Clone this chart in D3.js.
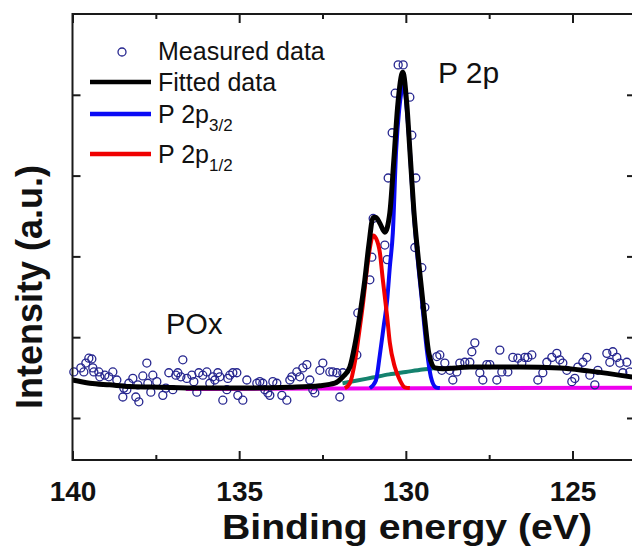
<!DOCTYPE html>
<html><head><meta charset="utf-8">
<script src="https://cdn.jsdelivr.net/npm/d3@7"></script>
<style>
html,body{margin:0;padding:0;background:#fff;}
svg{display:block;font-family:"Liberation Sans",Arial,sans-serif;}
</style></head>
<body>
<svg id="chart" width="632" height="547"></svg>
<script>
// ---- data (binding energy eV, intensity a.u.) ----
const xMajorTicks = [140, 135, 130, 125];
const xMinorTicks = [137.5, 132.5, 127.5];
const yTicks = [0.52, 1.52, 2.52, 3.52, 4.52];

const measured = [
 [139.96,1.09],[139.75,1.14],[139.66,1.09],[139.60,1.20],[139.51,1.26],[139.42,1.25],[139.39,1.14],
 [139.36,1.09],[139.21,1.09],[139.18,1.03],[139.03,1.05],[138.91,1.03],[138.79,1.09],[138.67,0.99],
 [138.49,0.78],[138.46,0.89],[138.37,0.87],[138.31,0.95],[138.19,1.01],[138.10,0.78],[138.04,0.93],
 [138.01,0.72],[137.89,1.04],[137.77,1.20],[137.74,0.95],[137.65,0.84],[137.59,1.05],[137.47,0.97],
 [137.29,0.80],[137.20,0.89],[137.11,1.08],[136.99,0.87],[136.90,1.05],[136.84,1.08],[136.75,1.03],
 [136.69,1.24],[136.57,1.01],[136.42,1.05],[136.36,0.97],[136.27,0.84],[136.21,1.08],[136.09,1.05],
 [135.97,1.09],[135.88,0.95],[135.79,1.03],[135.73,0.99],[135.64,1.08],[135.58,1.03],[135.49,0.74],
 [135.37,0.87],[135.34,1.01],[135.28,1.05],[135.19,1.08],[135.07,1.08],[135.04,0.80],[134.89,0.74],
 [134.77,0.99],[134.47,0.95],[134.38,0.97],[134.29,0.95],[134.23,0.87],[134.14,0.83],[134.08,0.80],
 [133.99,0.97],[133.87,0.95],[133.72,0.80],[133.57,0.74],[133.48,0.99],[133.42,1.03],[133.27,1.09],
 [133.18,1.03],[133.09,1.14],[132.97,1.18],[132.88,0.99],[132.79,0.87],[132.73,0.83],[132.58,1.11],
 [132.49,1.20],[132.28,1.09],[132.19,1.09],[132.07,1.08],[131.98,0.78],[131.89,1.08],[131.47,1.30],
 [131.44,1.82],[131.08,2.23],[131.02,2.51],[130.98,2.99],[130.63,2.66],[130.56,2.48],[130.53,3.49],
 [130.41,4.05],[130.32,4.54],[130.23,4.89],[130.08,4.89],[129.88,4.49],[129.82,4.02],[129.70,3.49],
 [129.73,2.63],[129.52,2.38],[129.43,1.89],[129.07,1.28],[128.98,1.30],[128.92,1.11],[128.83,1.20],
 [128.68,1.11],[128.59,0.99],[128.47,1.09],[128.38,1.20],[128.23,1.21],[128.08,1.21],[128.02,1.34],
 [127.93,1.45],[127.78,1.08],[127.69,0.99],[127.57,1.18],[127.48,1.18],[127.27,0.99],[127.18,1.36],
 [127.12,1.09],[126.94,1.09],[126.79,1.27],[126.64,1.26],[126.52,1.20],[126.43,1.27],[126.34,1.27],
 [126.22,1.30],[126.04,0.99],[125.89,1.08],[125.77,1.21],[125.62,1.27],[125.47,1.32],[125.38,1.24],
 [125.29,1.20],[125.17,1.11],[125.02,0.97],[124.93,1.01],[124.84,1.15],[124.69,1.21],[124.57,1.27],
 [124.48,1.05],[124.33,0.93],[124.24,1.11],[123.97,1.32],[123.88,1.21],[123.79,1.34],[123.67,1.27],
 [123.58,1.20],[123.49,1.08],[123.37,1.21],[123.28,1.09]
];

const fitted = [
 [140.0,0.99],[139.48,0.95],[138.88,0.93],[138.28,0.91],[137.38,0.90],[136.18,0.89],[134.68,0.89],
 [133.48,0.90],[132.58,0.92],[132.13,0.95],[131.89,1.03],[131.68,1.15],[131.53,1.42],[131.38,1.79],
 [131.23,2.23],[131.11,2.66],[130.98,3.00],[130.90,3.00],[130.78,2.93],[130.63,2.82],[130.48,3.06],
 [130.36,3.71],[130.24,4.40],[130.09,4.80],[129.97,4.40],[129.88,3.84],[129.76,3.09],[129.58,2.31],
 [129.43,1.73],[129.31,1.32],[129.13,1.14],[128.89,1.13],[128.08,1.15],[126.58,1.15],[125.38,1.14],
 [124.48,1.10],[123.10,1.02]
];

const p2p32 = [
 [131.08,0.89],[130.90,0.98],[130.78,1.30],[130.66,1.67],[130.56,1.98],[130.48,2.39],[130.39,2.81],
 [130.29,3.84],[130.20,4.33],[130.06,4.64],[129.97,4.33],[129.88,3.84],[129.79,3.22],[129.67,2.60],
 [129.52,1.98],[129.37,1.36],[129.25,1.03],[129.10,0.90],[128.98,0.89]
];

const p2p12 = [
 [131.83,0.89],[131.68,0.95],[131.53,1.21],[131.41,1.55],[131.29,1.92],[131.17,2.35],[131.08,2.62],
 [130.98,2.78],[130.89,2.74],[130.78,2.57],[130.69,2.23],[130.56,1.77],[130.48,1.45],[130.33,1.15],
 [130.18,0.99],[130.03,0.90],[129.88,0.89]
];

const shirley = [
 [131.90,0.95],[131.50,0.98],[131.00,1.02],[130.50,1.06],[130.00,1.09],[129.50,1.12],[129.10,1.14]
];

const baseline = [[136.6,0.88],[123.1,0.895]];

// ---- layout ----
const svg = d3.select("#chart");
const mLeft = 72.5, mRight = 635, mTop = 14, mBottom = 460;
const x = d3.scaleLinear().domain([140, 123.125]).range([mLeft, mRight]);
const y = d3.scaleLinear().domain([0, 5.52]).range([mBottom, mTop]);

const line = d3.line().x(d => x(d[0])).y(d => y(d[1])).curve(d3.curveMonotoneX);

const plot = svg.append("g");

plot.append("path").datum(baseline).attr("d", line)
  .attr("fill","none").attr("stroke","#ee00ee").attr("stroke-width",4);

plot.append("g").selectAll("circle").data(measured).join("circle")
  .attr("cx", d => x(d[0])).attr("cy", d => y(d[1])).attr("r", 4)
  .attr("fill","none").attr("stroke","#26268f").attr("stroke-width",1.3);

plot.append("path").datum(shirley).attr("d", line)
  .attr("fill","none").attr("stroke","#14826e").attr("stroke-width",4);
plot.append("path").datum(p2p32).attr("d", line)
  .attr("fill","none").attr("stroke","#0a0af5").attr("stroke-width",4);
plot.append("path").datum(p2p12).attr("d", line)
  .attr("fill","none").attr("stroke","#f00000").attr("stroke-width",4);
plot.append("path").datum(fitted).attr("d", line)
  .attr("fill","none").attr("stroke","#000").attr("stroke-width",5).attr("stroke-linejoin","round");

// ---- axes ----
const axisColor = "#1a1a1a";
function styleAxis(g){
  g.select(".domain").remove();
  g.selectAll(".tick line").attr("stroke",axisColor).attr("stroke-width",2);
}
svg.append("g").attr("transform",`translate(0,${mBottom})`)
  .call(d3.axisBottom(x).tickValues(xMajorTicks).tickSizeInner(-9).tickSizeOuter(0).tickPadding(21).tickFormat(d3.format("d")))
  .call(styleAxis)
  .call(g => g.selectAll("text").attr("fill","#111").attr("font-size",28).attr("font-weight","bold")
        .attr("font-family","'Liberation Sans',Arial,sans-serif"));
svg.append("g").attr("transform",`translate(0,${mBottom})`)
  .call(d3.axisBottom(x).tickValues(xMinorTicks).tickSizeInner(-5).tickSizeOuter(0).tickFormat(""))
  .call(styleAxis);
svg.append("g").attr("transform",`translate(0,${mTop})`)
  .call(d3.axisTop(x).tickValues(xMajorTicks).tickSizeInner(-9).tickSizeOuter(0).tickFormat(""))
  .call(styleAxis);
svg.append("g").attr("transform",`translate(0,${mTop})`)
  .call(d3.axisTop(x).tickValues(xMinorTicks).tickSizeInner(-5).tickSizeOuter(0).tickFormat(""))
  .call(styleAxis);
svg.append("g").attr("transform",`translate(${mLeft},0)`)
  .call(d3.axisLeft(y).tickValues(yTicks).tickSizeInner(-8).tickSizeOuter(0).tickFormat(""))
  .call(styleAxis);
svg.append("g").attr("transform",`translate(${mRight},0)`)
  .call(d3.axisRight(y).tickValues(yTicks).tickSizeInner(-8).tickSizeOuter(0).tickFormat(""))
  .call(styleAxis);

// frame
svg.append("path")
  .attr("d", `M${mRight},${mTop}H${mLeft}V${mBottom}H${mRight}`)
  .attr("fill","none").attr("stroke",axisColor).attr("stroke-width",2);

// axis titles
svg.append("text").attr("transform","translate(407,539) scale(1.12,1)")
  .attr("text-anchor","middle").attr("font-size",35).attr("font-weight","bold").attr("fill","#111")
  .text("Binding energy (eV)");
svg.append("text").attr("transform","translate(42,287) rotate(-90)")
  .attr("text-anchor","middle").attr("font-size",36).attr("font-weight","bold").attr("fill","#111")
  .text("Intensity (a.u.)");

// annotations
svg.append("text").attr("x",438).attr("y",83).attr("font-size",30).attr("fill","#111").text("P 2p");
svg.append("text").attr("x",166).attr("y",334).attr("font-size",29).attr("fill","#111").text("POx");

// legend
const legend = svg.append("g");
legend.append("circle").attr("cx",122).attr("cy",52).attr("r",4)
  .attr("fill","none").attr("stroke","#26268f").attr("stroke-width",1.3);
legend.append("text").attr("x",158).attr("y",60).attr("font-size",25).attr("fill","#111").text("Measured data");
const legItems = [
  {c:"#000", y:82, base:91, main:"Fitted data", sub:null},
  {c:"#0a0af5", y:114, base:123, main:"P 2p", sub:"3/2"},
  {c:"#f00000", y:154, base:163, main:"P 2p", sub:"1/2"}
];
legItems.forEach(it => {
  legend.append("line").attr("x1",90).attr("x2",151).attr("y1",it.y).attr("y2",it.y)
    .attr("stroke",it.c).attr("stroke-width",4.5);
  const t = legend.append("text").attr("x",158).attr("y",it.base).attr("font-size",25).attr("fill","#111");
  t.append("tspan").text(it.main);
  if (it.sub) t.append("tspan").attr("dy",8).attr("font-size",17).text(it.sub);
});
</script>
</body></html>
